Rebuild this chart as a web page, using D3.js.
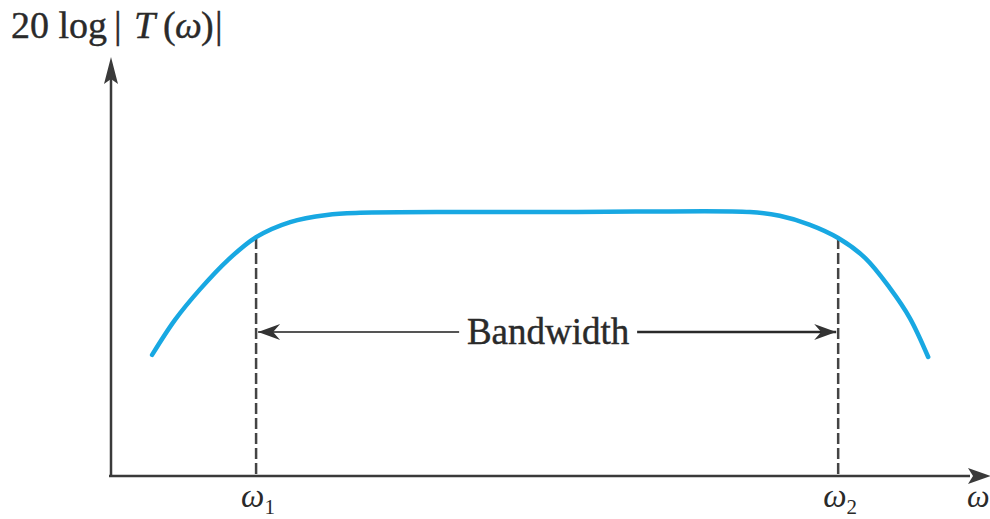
<!DOCTYPE html>
<html>
<head>
<meta charset="utf-8">
<script src="https://cdn.jsdelivr.net/npm/d3@7"></script>
<style>
  body { margin: 0; background: #fff; }
  svg text { font-family: "Liberation Serif", "DejaVu Serif", serif; fill: #2a2a2a; }
</style>
</head>
<body>
<div id="chart"></div>
<script>
// frequency response, arbitrary units
const omega = [0.47, 0.73, 1.02, 1.34, 1.66, 2.05, 2.47, 2.85, 4.0, 5.0, 6.0, 7.31, 7.65, 7.99, 8.32, 8.63, 8.91, 9.14, 9.35];
const gain  = [2.89, 3.72, 4.46, 5.16, 5.70, 6.06, 6.23, 6.28, 6.30, 6.30, 6.31, 6.30, 6.21, 6.00, 5.68, 5.20, 4.49, 3.77, 2.84];

// corner frequencies and level at which they are marked
const cornerFreqs = [1.66, 8.32];
const cornerLabels = ["1", "2"];
const cornerLevel = 5.68;

const width = 990, height = 519;

const x = d3.scaleLinear().domain([0, 10]).range([111, 985]);
const y = d3.scaleLinear().domain([0, 10]).range([476, 57]);

const svg = d3.select("#chart").append("svg")
    .attr("width", width)
    .attr("height", height);

const axisColor = "#3a3a3a";

// axes (no ticks, just arrows)
svg.append("line")
    .attr("x1", x(0)).attr("y1", y(0) + 1)
    .attr("x2", x(0)).attr("y2", y(10) + 20)
    .attr("stroke", axisColor).attr("stroke-width", 2.5);
svg.append("path")
    .attr("d", `M${x(0)},${y(10)} L${x(0) - 7},${y(10) + 27} L${x(0)},${y(10) + 22} L${x(0) + 7},${y(10) + 27} Z`)
    .attr("fill", axisColor);

svg.append("line")
    .attr("x1", x(0) - 2).attr("y1", y(0))
    .attr("x2", x(10) - 15).attr("y2", y(0))
    .attr("stroke", axisColor).attr("stroke-width", 2.5);
svg.append("path")
    .attr("d", `M${x(10) + 6},${y(0)} L${x(10) - 17},${y(0) - 8} L${x(10) - 12},${y(0)} L${x(10) - 17},${y(0) + 8} Z`)
    .attr("fill", axisColor);

// dashed verticals at corner frequencies
svg.selectAll(".corner")
    .data(cornerFreqs)
    .enter()
    .append("line")
        .attr("class", "corner")
        .attr("x1", d => x(d)).attr("x2", d => x(d))
        .attr("y1", y(cornerLevel)).attr("y2", y(0))
        .attr("stroke", "#444")
        .attr("stroke-width", 2.5)
        .attr("stroke-dasharray", "11,4");

// response curve
const pts = omega.map((w, i) => [w, gain[i]]);
svg.append("path")
    .datum(pts)
    .attr("d", d3.line().x(d => x(d[0])).y(d => y(d[1])).curve(d3.curveCatmullRom.alpha(0.5)))
    .attr("fill", "none")
    .attr("stroke", "#18a8e2")
    .attr("stroke-width", 4.5)
    .attr("stroke-linecap", "round");

// bandwidth arrow
const bwY = 332;
const x1 = x(cornerFreqs[0]) + 2, x2 = x(cornerFreqs[1]) - 2;
const mid = (x1 + x2) / 2;

svg.append("line")
    .attr("x1", x1).attr("x2", mid - 88).attr("y1", bwY).attr("y2", bwY)
    .attr("stroke", "#555").attr("stroke-width", 2);
svg.append("line")
    .attr("x1", mid + 90).attr("x2", x2).attr("y1", bwY).attr("y2", bwY)
    .attr("stroke", "#2a2a2a").attr("stroke-width", 2.5);

svg.append("path")
    .attr("d", `M${x1},${bwY} L${x1 + 22},${bwY - 8} L${x1 + 15},${bwY} L${x1 + 22},${bwY + 8} Z`)
    .attr("fill", "#333");
svg.append("path")
    .attr("d", `M${x2},${bwY} L${x2 - 22},${bwY - 8} L${x2 - 15},${bwY} L${x2 - 22},${bwY + 8} Z`)
    .attr("fill", "#333");

svg.append("text")
    .attr("x", mid + 1).attr("y", bwY + 12)
    .attr("text-anchor", "middle")
    .style("font-size", "37px")
    .style("stroke", "#2a2a2a").style("stroke-width", 0.4)
    .text("Bandwidth");

// corner labels
const cl = svg.selectAll(".clabel")
    .data(cornerFreqs)
    .enter()
    .append("text")
        .attr("class", "clabel")
        .attr("x", d => x(d) - 15)
        .attr("y", 507)
        .style("font-size", "33px");
cl.append("tspan").style("font-style", "italic").text("ω");
cl.append("tspan").attr("dy", 7).style("font-size", "21px").text((d, i) => cornerLabels[i]);

// x-axis label (at the right edge)
svg.append("text")
    .attr("x", 967).attr("y", 507)
    .style("font-size", "32px").style("font-style", "italic")
    .text("ω");

// y-axis label
const yl = svg.append("text")
    .attr("y", 38)
    .style("font-size", "38px")
    .style("stroke", "#2a2a2a").style("stroke-width", 0.4);
yl.append("tspan").attr("x", 11).text("20 log");
yl.append("tspan").attr("x", 114).text("|");
yl.append("tspan").attr("x", 134).style("font-style", "italic").text("T");
yl.append("tspan").attr("x", 163).text("(");
yl.append("tspan").attr("x", 175).style("font-style", "italic").text("ω");
yl.append("tspan").attr("x", 201).text(")");
yl.append("tspan").attr("x", 215).text("|");
</script>
</body>
</html>
